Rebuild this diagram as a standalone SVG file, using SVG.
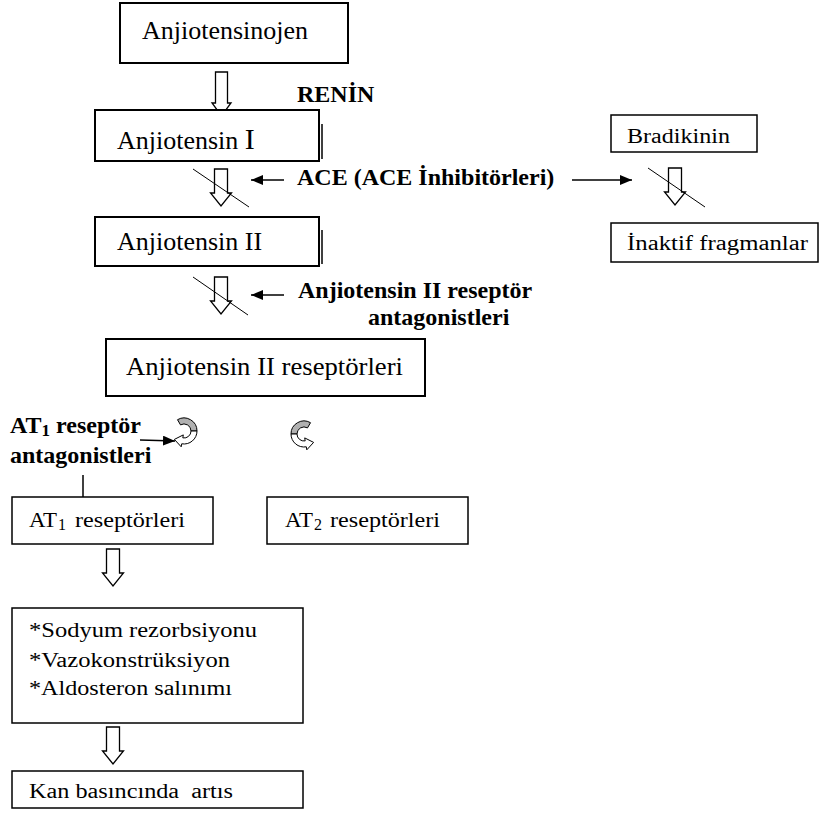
<svg xmlns="http://www.w3.org/2000/svg" xmlns:xlink="http://www.w3.org/1999/xlink" width="821" height="814" viewBox="0 0 821 814">
<style>
.box{fill:#fff;stroke:#000;stroke-width:2}
.box2{fill:#fff;stroke:#000;stroke-width:1.5}
.hollow{fill:#fff;stroke:#000;stroke-width:1.3}
text{font-family:'Liberation Serif','Times New Roman',Times,serif;fill:#000}
.big{font-size:26px}
.sm{font-size:20px}
.bold{font-size:24px;font-weight:bold}
.line{stroke:#000;stroke-width:1.5;fill:none}
.thin{stroke:#000;stroke-width:1;fill:none}
.gray{fill:#b0b0b0;stroke:#000;stroke-width:1}
.white{fill:#fff;stroke:#000;stroke-width:1}
</style>
<defs>
<path id="harrow" d="M-6.5,0 V24 H-10.5 L0,37 L10.5,24 H6.5 V0 Z" class="hollow"/>
<marker id="ah" markerUnits="userSpaceOnUse" markerWidth="12" markerHeight="10" viewBox="0 0 12 10" refX="12" refY="5" orient="auto">
<path d="M0,0 L12,5 L0,10 Z" fill="#000"/>
</marker>
<g id="curl">
<path class="gray" d="M177.5,419.7 A13,13 0 0 1 197,431 L191,431 A7,7 0 0 0 180.5,424.9 Z"/>
<path class="white" d="M197,431 A13,13 0 0 1 181.7,443.8 L181.2,446.8 L174.4,439.4 L183.3,434.9 L182.8,437.9 A7,7 0 0 0 191,431 Z"/>
</g>
</defs>
<rect width="821" height="814" fill="#fff"/>
<g id="connectors">
<path class="hollow" d="M215.5,72 V103 H212 L221.5,116 L231,103 H227.5 V72 Z"/>
<use href="#harrow" xlink:href="#harrow" x="221" y="169"/>
<line class="thin" x1="193" y1="169" x2="249" y2="207"/>
<use href="#harrow" xlink:href="#harrow" x="221" y="277"/>
<line class="thin" x1="193" y1="277" x2="248" y2="315"/>
<use href="#harrow" xlink:href="#harrow" x="675" y="168"/>
<line class="thin" x1="648" y1="168" x2="705" y2="207"/>
<use href="#harrow" xlink:href="#harrow" x="113" y="549"/>
<use href="#harrow" xlink:href="#harrow" x="113" y="727"/>
<line class="line" x1="284" y1="180" x2="251" y2="180" marker-end="url(#ah)"/>
<line class="line" x1="572" y1="180" x2="632" y2="180" marker-end="url(#ah)"/>
<line class="line" x1="284" y1="295" x2="251" y2="295" marker-end="url(#ah)"/>
<line class="line" x1="140" y1="440" x2="175" y2="441" marker-end="url(#ah)"/>
<line class="line" x1="83" y1="475" x2="83" y2="497"/>
<use href="#curl" xlink:href="#curl"/>
<use href="#curl" xlink:href="#curl" transform="translate(488,3) scale(-1,1)"/>
</g>
<g id="anjiotensinojen">
<rect class="box" x="120" y="3" width="228" height="60"/>
<text class="big" x="142" y="39">Anjiotensinojen</text>
</g>
<g id="renin">
<text class="bold" x="297" y="102">RENİN</text>
</g>
<g id="anjiotensin1">
<rect class="box" x="95" y="110" width="224" height="51"/>
<line class="line" x1="322" y1="124" x2="322" y2="159"/>
<text class="big" x="117" y="149">Anjiotensin <tspan style="font-size:30px">I</tspan></text>
</g>
<g id="ace">
<text class="bold" x="297" y="185">ACE (ACE İnhibitörleri)</text>
</g>
<g id="bradikinin">
<rect class="box2" x="611" y="115" width="146" height="37"/>
<text class="sm" x="627" y="143" textLength="103" lengthAdjust="spacingAndGlyphs">Bradikinin</text>
</g>
<g id="inaktif">
<rect class="box2" x="611" y="223" width="207" height="39"/>
<text class="sm" x="627" y="250" textLength="181" lengthAdjust="spacingAndGlyphs">İnaktif fragmanlar</text>
</g>
<g id="anjiotensin2">
<rect class="box" x="95" y="217" width="224" height="49"/>
<line class="line" x1="322" y1="230" x2="322" y2="264"/>
<text class="big" x="117" y="250">Anjiotensin II</text>
</g>
<g id="ant2antag">
<text class="bold" x="298" y="298">Anjiotensin II reseptör</text>
<text class="bold" x="368" y="325">antagonistleri</text>
</g>
<g id="reseptorleri">
<rect class="box" x="106" y="339" width="319" height="57"/>
<text class="big" x="126" y="375" textLength="277" lengthAdjust="spacingAndGlyphs">Anjiotensin II reseptörleri</text>
</g>
<g id="at1antag">
<text class="bold" x="10" y="433">AT<tspan dy="3" style="font-size:17px">1</tspan><tspan dy="-3"> reseptör</tspan></text>
<text class="bold" x="10" y="463">antagonistleri</text>
</g>
<g id="at1">
<rect class="box2" x="12" y="497" width="201" height="47"/>
<text class="sm" x="29" y="527" textLength="28" lengthAdjust="spacingAndGlyphs">AT</text>
<text class="sm" x="58" y="530" style="font-size:16px">1</text>
<text class="sm" x="75" y="527" textLength="110" lengthAdjust="spacingAndGlyphs">reseptörleri</text>
</g>
<g id="at2">
<rect class="box2" x="267" y="497" width="201" height="47"/>
<text class="sm" x="285" y="527" textLength="28" lengthAdjust="spacingAndGlyphs">AT</text>
<text class="sm" x="314" y="530" style="font-size:16px">2</text>
<text class="sm" x="330" y="527" textLength="110" lengthAdjust="spacingAndGlyphs">reseptörleri</text>
</g>
<g id="etkiler">
<rect class="box2" x="12" y="608" width="291" height="115"/>
<text class="sm" x="29" y="637" textLength="228" lengthAdjust="spacingAndGlyphs">*Sodyum rezorbsiyonu</text>
<text class="sm" x="29" y="667" textLength="201" lengthAdjust="spacingAndGlyphs">*Vazokonstrüksiyon</text>
<text class="sm" x="29" y="695" textLength="203" lengthAdjust="spacingAndGlyphs">*Aldosteron salınımı</text>
</g>
<g id="kan">
<rect class="box2" x="12" y="771" width="291" height="37"/>
<text class="sm" x="29" y="798" textLength="204" lengthAdjust="spacingAndGlyphs" xml:space="preserve">Kan basıncında  artıs</text>
</g>
</svg>
